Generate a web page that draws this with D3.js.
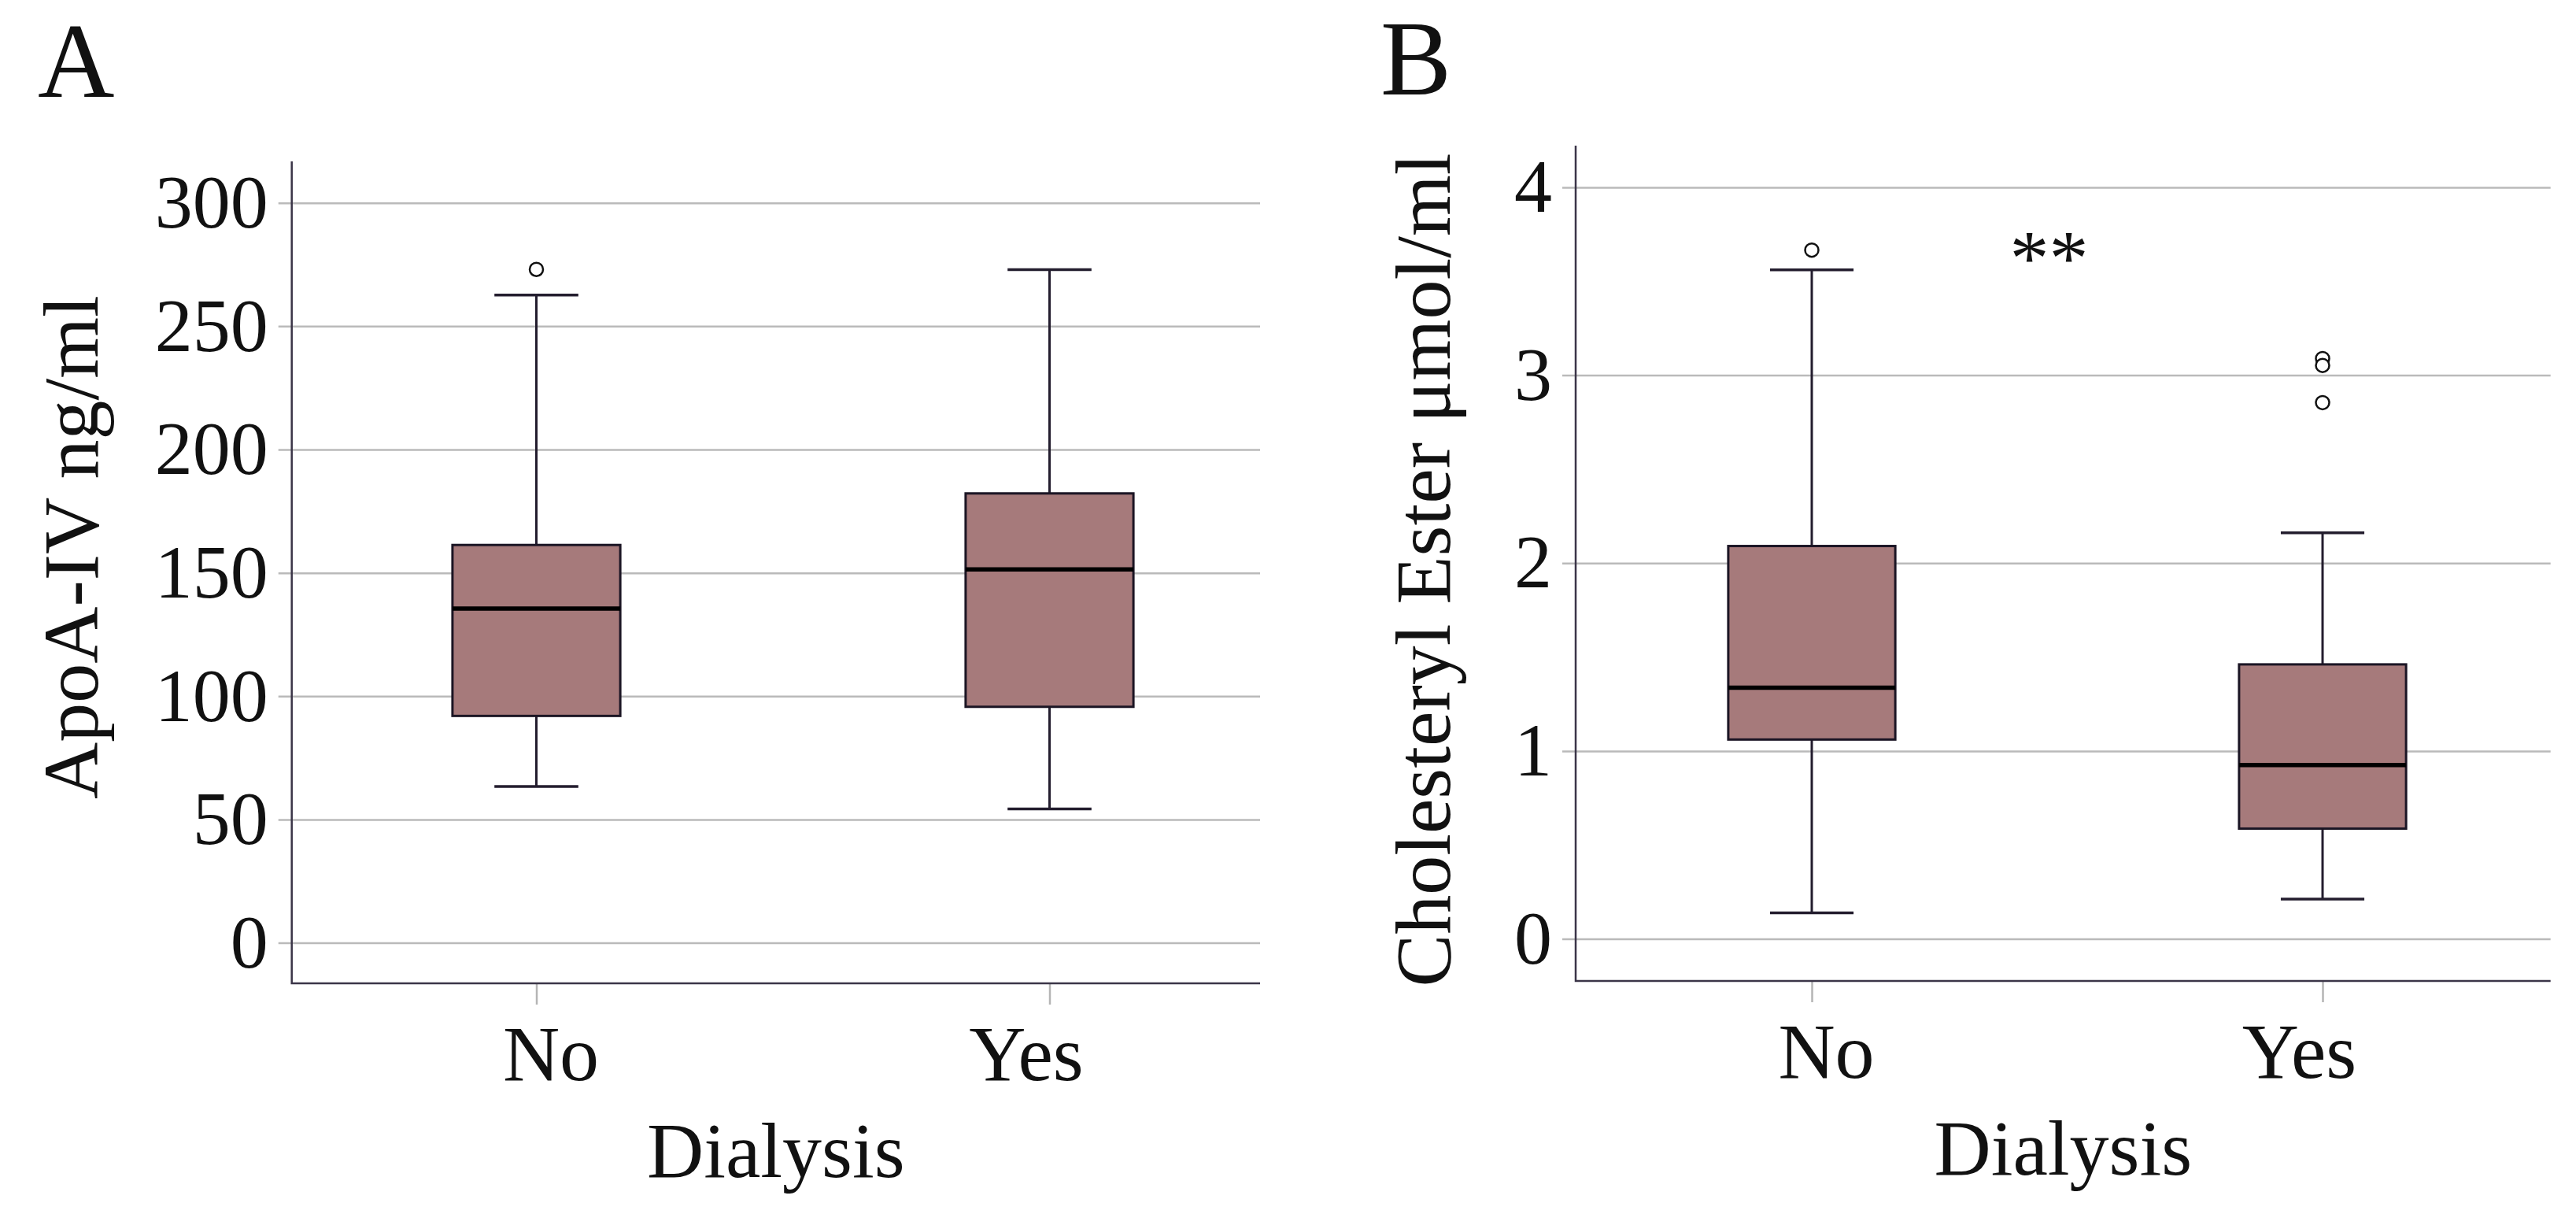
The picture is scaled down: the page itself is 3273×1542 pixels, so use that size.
<!DOCTYPE html>
<html>
<head>
<meta charset="utf-8">
<script src="https://cdn.jsdelivr.net/npm/d3@7"></script>
<style>
  body { margin: 0; background: #fff; }
  svg { display: block; }
</style>
</head>
<body>
<svg id="chart" width="3273" height="1542"></svg>
<script>
// categories on the x axis (both panels)
const categories = ["No", "Yes"];

// Panel A: ApoA-IV ng/ml
const apoaLow     = [63.4, 54.3];
const apoaQ1      = [92.0, 95.7];
const apoaMedian  = [135.5, 151.4];
const apoaQ3      = [161.3, 182.2];
const apoaHigh    = [262.6, 272.9];
const apoaOutliers = [[273.0], []];
const apoaTicks   = [0, 50, 100, 150, 200, 250, 300];

// Panel B: Cholesteryl Ester umol/ml
const ceLow     = [0.138, 0.212];
const ceQ1      = [1.061, 0.587];
const ceMedian  = [1.337, 0.925];
const ceQ3      = [2.091, 1.461];
const ceHigh    = [3.561, 2.161];
const ceOutliers = [[3.666], [3.089, 3.052, 2.854]];
const ceTicks   = [0, 1, 2, 3, 4];

const serif = "'Liberation Serif', 'Times New Roman', serif";
const svg = d3.select("#chart");

function drawPanel(cfg) {
    let w = cfg.right - cfg.left, h = cfg.bottom - cfg.top;
    let g = svg.append("g").attr("transform", `translate(${cfg.left},${cfg.top})`);

    let y = d3.scaleLinear().domain(cfg.domain).range([h, 0]);
    let x = d3.scalePoint().domain(categories).range([cfg.insetLeft, w - cfg.insetRight]);

    // gridlines + y tick labels
    g.append("g")
        .attr("transform", "translate(-17,0)")
        .call(d3.axisLeft(y).tickValues(cfg.ticks).tickSize(-(w + 17)).tickPadding(13).tickFormat(d3.format("d")))
        .call(a => a.select(".domain").remove())
        .call(a => a.selectAll("line").attr("stroke", "#bababa").attr("stroke-width", 2.5))
        .call(a => a.selectAll("text").attr("font-size", 96).attr("font-family", serif).attr("fill", "#111"));

    // x ticks and labels
    g.append("g")
        .attr("transform", `translate(0,${h})`)
        .call(d3.axisBottom(x).tickSize(27).tickPadding(25))
        .call(a => a.select(".domain").remove())
        .call(a => a.selectAll("line").attr("stroke", "#b5b5b5").attr("stroke-width", 2.5))
        .call(a => a.selectAll("text").attr("font-size", 100).attr("font-family", serif).attr("fill", "#111")
            .attr("dx", d => d === "No" ? 18 : -30));

    // axis frame (left + bottom)
    g.append("path")
        .attr("d", `M0,0V${h}H${w}`)
        .attr("fill", "none")
        .attr("stroke", "#3b3548")
        .attr("stroke-width", 2.5);

    let bw = x.step() * 0.327;
    let ink = "#231d2e";

    categories.forEach((c, i) => {
        let cx = x(c);
        let s = cfg.stats;
        // whiskers
        g.append("line").attr("x1", cx).attr("x2", cx).attr("y1", y(s.low[i])).attr("y2", y(s.q1[i]))
            .attr("stroke", ink).attr("stroke-width", 3);
        g.append("line").attr("x1", cx).attr("x2", cx).attr("y1", y(s.q3[i])).attr("y2", y(s.high[i]))
            .attr("stroke", ink).attr("stroke-width", 3);
        [s.low[i], s.high[i]].forEach(v => {
            g.append("line").attr("x1", cx - bw / 4).attr("x2", cx + bw / 4).attr("y1", y(v)).attr("y2", y(v))
                .attr("stroke", ink).attr("stroke-width", 3.5);
        });
        // box
        g.append("rect")
            .attr("x", cx - bw / 2).attr("width", bw)
            .attr("y", y(s.q3[i])).attr("height", y(s.q1[i]) - y(s.q3[i]))
            .attr("fill", "#a67a7b")
            .attr("stroke", "#1b1524")
            .attr("stroke-width", 3);
        // median
        g.append("line").attr("x1", cx - bw / 2).attr("x2", cx + bw / 2)
            .attr("y1", y(s.median[i])).attr("y2", y(s.median[i]))
            .attr("stroke", "#000").attr("stroke-width", 5.5);
        // outliers
        s.outliers[i].forEach(v => {
            g.append("circle").attr("cx", cx).attr("cy", y(v)).attr("r", 8.5)
                .attr("fill", "#fff").attr("stroke", "#111").attr("stroke-width", 2.5);
        });
    });

    if (cfg.star) {
        g.append("text")
            .attr("x", (x("No") + x("Yes")) / 2 - 23)
            .attr("y", y(cfg.star.value))
            .attr("text-anchor", "middle")
            .attr("font-size", 100).attr("font-family", serif).attr("fill", "#111")
            .text(cfg.star.text);
    }

    // axis titles
    g.append("text")
        .attr("x", w / 2).attr("y", h + 246)
        .attr("text-anchor", "middle")
        .attr("font-size", 100).attr("font-family", serif).attr("fill", "#111")
        .text("Dialysis");

    svg.append("text")
        .attr("transform", `translate(${cfg.ylabX},${cfg.ylabY}) rotate(-90)`)
        .attr("text-anchor", "middle")
        .attr("font-size", 100).attr("font-family", serif).attr("fill", "#111")
        .text(cfg.ylabel);

    // panel letter
    svg.append("text")
        .attr("x", cfg.letterX).attr("y", cfg.letterY)
        .attr("font-size", 135).attr("font-family", serif).attr("fill", "#111")
        .text(cfg.letter);
}

drawPanel({
    left: 370.7, right: 1601, top: 205, bottom: 1249,
    insetLeft: 310.8, insetRight: 267.5,
    domain: [-16.4, 316.8], ticks: apoaTicks,
    stats: { low: apoaLow, q1: apoaQ1, median: apoaMedian, q3: apoaQ3, high: apoaHigh, outliers: apoaOutliers },
    ylabel: "ApoA-IV ng/ml", ylabX: 124, ylabY: 695,
    letter: "A", letterX: 48, letterY: 123
});

drawPanel({
    left: 2002, right: 3240.7, top: 185, bottom: 1246,
    insetLeft: 300, insetRight: 289.7,
    domain: [-0.224, 4.222], ticks: ceTicks,
    stats: { low: ceLow, q1: ceQ1, median: ceMedian, q3: ceQ3, high: ceHigh, outliers: ceOutliers },
    star: { text: "**", value: 3.485 },
    ylabel: "Cholesteryl Ester μmol/ml", ylabX: 1842, ylabY: 724,
    letter: "B", letterX: 1754, letterY: 120
});
</script>
</body>
</html>
